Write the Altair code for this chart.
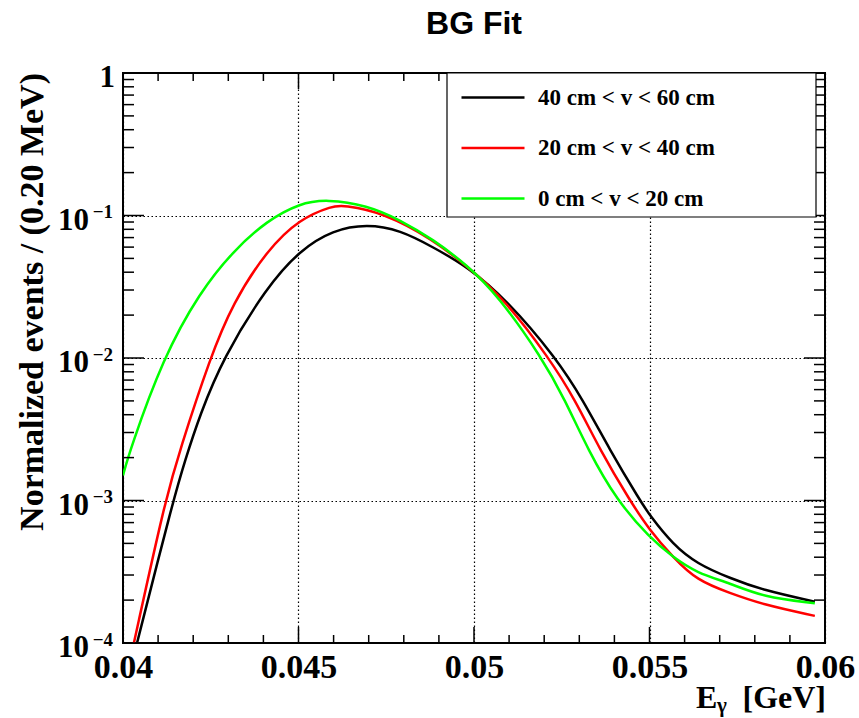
import altair as alt
import pandas as pd

# ---------------- data ----------------
SERIES = ["40 cm < v < 60 cm", "20 cm < v < 40 cm", "0 cm < v < 20 cm"]
COLORS = ["#000000", "#ff0000", "#00ff00"]

x_black = [0.0404, 0.0414, 0.04177, 0.04219, 0.04285, 0.0441, 0.04504, 0.04598, 0.04695,
           0.0479, 0.04883, 0.0498, 0.05094, 0.05234, 0.0531, 0.05387, 0.05473, 0.055,
           0.05567, 0.05635, 0.05729, 0.05823, 0.05971]
y_black = [1.0e-4, 9.4e-4, 1.92e-3, 3.98e-3, 1.0e-2, 3.16e-2, 5.7e-2, 7.9e-2, 8.7e-2,
           7.9e-2, 6.0e-2, 4.4e-2, 2.55e-2, 1.0e-2, 5.1e-3, 2.26e-3, 1.0e-3, 7.9e-4,
           4.9e-4, 3.6e-4, 2.85e-4, 2.35e-4, 1.95e-4]

x_red = [0.04031, 0.0412, 0.04162, 0.04248, 0.04313, 0.0441, 0.04504, 0.04598, 0.04627,
         0.04741, 0.04883, 0.0498, 0.05083, 0.05214, 0.05288, 0.05359, 0.05444, 0.055,
         0.05567, 0.05635, 0.05729, 0.05823, 0.05971]
y_red = [1.0e-4, 1.0e-3, 2.26e-3, 1.0e-2, 2.43e-2, 5.7e-2, 9.5e-2, 0.117, 0.118,
         0.105, 6.8e-2, 4.4e-2, 2.65e-2, 1.0e-2, 5.1e-3, 2.26e-3, 1.0e-3, 6.2e-4,
         4.0e-4, 2.75e-4, 2.24e-4, 1.86e-4, 1.55e-4]

x_green = [0.04, 0.0402, 0.04114, 0.04219, 0.04313, 0.0441, 0.04504, 0.04581,
           0.04695, 0.0479, 0.04883, 0.0498, 0.05068, 0.05194, 0.05259, 0.05325, 0.05407,
           0.055, 0.05567, 0.05635, 0.05729, 0.05823, 0.05971]
y_green = [1.5e-3, 2.26e-3, 1.0e-2, 2.9e-2, 5.6e-2, 9.2e-2, 0.122, 0.13,
           0.118, 9.3e-2, 6.8e-2, 4.5e-2, 2.75e-2, 1.0e-2, 5.1e-3, 2.26e-3, 1.0e-3,
           5.5e-4, 4.0e-4, 3.1e-4, 2.63e-4, 2.1e-4, 1.9e-4]

x_major = [0.04, 0.045, 0.05, 0.055, 0.06]
x_minor = [0.041, 0.042, 0.043, 0.044, 0.046, 0.047, 0.048, 0.049,
           0.051, 0.052, 0.053, 0.054, 0.056, 0.057, 0.058, 0.059]
y_major = [1e-4, 1e-3, 1e-2, 1e-1, 1.0]
y_minor = [m * 10.0 ** e for e in (-4, -3, -2, -1) for m in range(2, 10)]
y_exp_vals = [1e-4, 1e-3, 1e-2, 1e-1]
y_exp_text = ["\u22124", "\u22123", "\u22122", "\u22121"]

rows = []
for name, xs, ys in zip(SERIES, [x_black, x_red, x_green], [y_black, y_red, y_green]):
    for i, (a, b) in enumerate(zip(xs, ys)):
        rows.append({"series": name, "E": a, "N": b, "order": i})
df = pd.DataFrame(rows)

# ---------------- styling ----------------
W, H = 702, 570
SERIF = "Liberation Serif"
xscale = alt.Scale(domain=[0.04, 0.06], nice=False, zero=False)
yscale = alt.Scale(type="log", domain=[1e-4, 1], nice=False)

xaxis = alt.Axis(values=x_major, format="~g", title=None, ticks=False, tickSize=0,
                 domain=False, grid=True, gridColor="black", gridDash=[1.5, 2.5],
                 gridWidth=1.2, gridOpacity=1, labelFont=SERIF, labelFontWeight="bold",
                 labelFontSize=34, labelColor="black", labelBaseline="alphabetic",
                 labelPadding=34, labelFlush=False, labelOverlap=False, labelBound=False)
yaxis = alt.Axis(values=y_major, title=None, ticks=False, tickSize=0, domain=False,
                 labels=False, grid=True, gridColor="black", gridDash=[1.5, 2.5],
                 gridWidth=1.2, gridOpacity=1)

lines = alt.Chart(df).mark_line(strokeWidth=2.5, clip=True, interpolate="basis").encode(
    x=alt.X("E:Q", scale=xscale, axis=xaxis),
    y=alt.Y("N:Q", scale=yscale, axis=yaxis),
    color=alt.Color("series:N", scale=alt.Scale(domain=SERIES, range=COLORS),
                    legend=alt.Legend(orient="none", legendX=337, legendY=-8.5, title=None,
                                      symbolType="stroke", symbolSize=3969,
                                      symbolStrokeWidth=2.5, labelFont=SERIF,
                                      labelFontWeight="bold", labelFontSize=23,
                                      labelColor="black", labelOffset=12, labelLimit=400,
                                      rowPadding=5.5, padding=0)),
    order="order:Q",
)


def xticks(vals, y0, y1):
    return alt.Chart(pd.DataFrame({"E": vals})).mark_rule(color="black", strokeWidth=1.5).encode(
        x=alt.X("E:Q", scale=xscale), y=alt.value(y0), y2=alt.value(y1))


def yticks(vals, x0, x1):
    return alt.Chart(pd.DataFrame({"N": vals})).mark_rule(color="black", strokeWidth=1.5).encode(
        y=alt.Y("N:Q", scale=yscale), x=alt.value(x0), x2=alt.value(x1))


ticks = [
    xticks(x_major, H, H - 16), xticks(x_minor, H, H - 8),
    xticks(x_major, 0, 16), xticks(x_minor, 0, 8),
    yticks(y_major, 0, 21), yticks(y_minor, 0, 11),
    yticks(y_major, W, W - 21), yticks(y_minor, W, W - 11),
]

box = alt.Chart(pd.DataFrame({"k": [0]})).mark_rect(
    fill="white", stroke="black", strokeWidth=1.2).encode(
    x=alt.value(324), x2=alt.value(693), y=alt.value(0), y2=alt.value(144))

ylab_df = pd.DataFrame({"N": y_exp_vals, "base": ["10"] * 4, "exp": y_exp_text})
ylab_base = alt.Chart(ylab_df).mark_text(
    align="right", baseline="alphabetic", dy=14, font=SERIF, fontWeight="bold",
    fontSize=31, color="black").encode(
    x=alt.value(-34), y=alt.Y("N:Q", scale=yscale), text="base:N")
ylab_exp = alt.Chart(ylab_df).mark_text(
    align="right", baseline="alphabetic", dy=2.5, font=SERIF, fontWeight="bold",
    fontSize=19, color="black").encode(
    x=alt.value(-10), y=alt.Y("N:Q", scale=yscale), text="exp:N")
ylab_one = alt.Chart(pd.DataFrame({"N": [1.0], "base": ["1"]})).mark_text(
    align="right", baseline="alphabetic", dy=14, font=SERIF, fontWeight="bold",
    fontSize=31, color="black").encode(
    x=alt.value(-8), y=alt.Y("N:Q", scale=yscale), text="base:N")

ytitle = alt.Chart(pd.DataFrame({"t": ["Normalized events / (0.20 MeV)"]})).mark_text(
    angle=270, align="right", baseline="alphabetic", font=SERIF, fontWeight="bold",
    fontSize=34, color="black").encode(x=alt.value(-80), y=alt.value(0), text="t:N")

xt_E = alt.Chart(pd.DataFrame({"t": ["E"]})).mark_text(
    align="left", baseline="alphabetic", font=SERIF, fontWeight="bold", fontSize=32,
    color="black").encode(x=alt.value(573), y=alt.value(635), text="t:N")
xt_g = alt.Chart(pd.DataFrame({"t": ["\u03b3"]})).mark_text(
    align="left", baseline="alphabetic", font=SERIF, fontWeight="bold", fontSize=21,
    color="black").encode(x=alt.value(594), y=alt.value(639), text="t:N")
xt_u = alt.Chart(pd.DataFrame({"t": ["[GeV]"]})).mark_text(
    align="right", baseline="alphabetic", font=SERIF, fontWeight="bold", fontSize=32,
    color="black").encode(x=alt.value(703), y=alt.value(635), text="t:N")

title = alt.Chart(pd.DataFrame({"t": ["BG Fit"]})).mark_text(
    align="center", baseline="alphabetic", font="Liberation Sans", fontWeight="bold",
    fontSize=32, color="black").encode(x=alt.value(351), y=alt.value(-39), text="t:N")

chart = alt.layer(
    lines, *ticks, box, ylab_base, ylab_exp, ylab_one, ytitle, xt_E, xt_g, xt_u, title
).properties(
    width=W, height=H,
    autosize=alt.AutoSizeParams(type="none"),
    padding={"left": 123, "top": 73, "right": 34, "bottom": 75},
    background="white",
).configure_view(stroke="black", strokeWidth=2)

chart.save("out.html", embed_options={"renderer": "svg", "actions": False})
